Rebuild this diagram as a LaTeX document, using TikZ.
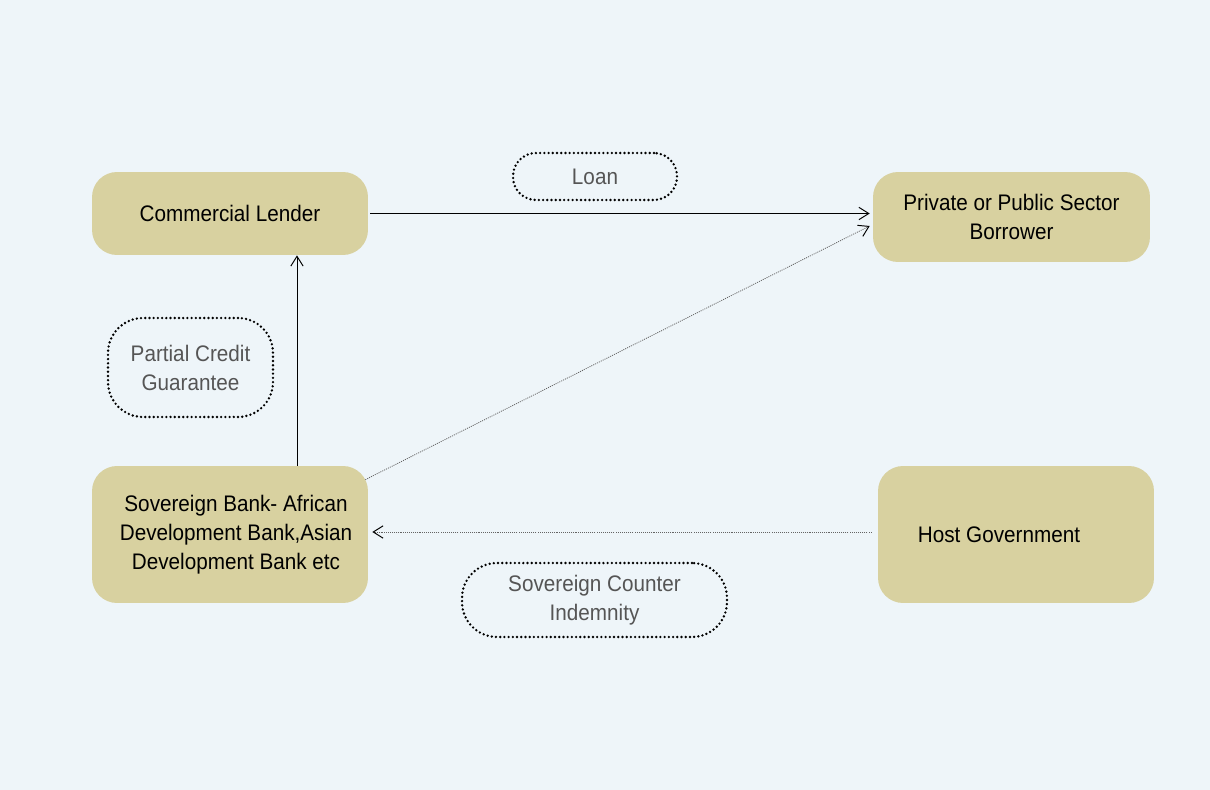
\documentclass[tikz,border=0pt]{standalone}
\usepackage{fontspec}
\setmainfont{Liberation Sans}[FakeStretch=0.92]
\usetikzlibrary{arrows.meta}
\definecolor{bgcol}{RGB}{238,245,249}
\definecolor{boxfill}{RGB}{216,209,160}
\definecolor{labeltext}{RGB}{85,85,85}
\definecolor{dotline}{RGB}{100,100,100}
\begin{document}
\begin{tikzpicture}[x=0.02cm,y=-0.02cm,
  party/.style={fill=boxfill, rounded corners=0.5cm, inner sep=0pt, align=center,
    font=\fontsize{12.8pt}{16.5pt}\selectfont, text=black},
  relation/.style={draw=black, line width=1.5pt, line cap=round,
    dash pattern=on 0pt off 2.4pt, inner sep=0pt, align=center,
    font=\fontsize{12.8pt}{16.5pt}\selectfont, text=labeltext},
  flow/.style={line width=0.55pt, -{Straight Barb[length=5.6pt,width=7pt]}},
  dotflow/.style={draw=dotline, line width=0.45pt, dash pattern=on 0.6pt off 0.6pt,
    -{Straight Barb[length=5.6pt,width=7pt,black,line width=0.55pt,sep=0pt]}}
]
\fill[bgcol] (0,0) rectangle (1210,790);
\useasboundingbox (0,0) rectangle (1210,790);

% parties
\node[party, minimum width=5.52cm, minimum height=1.66cm] (lender) at (230,213.5) {Commercial Lender};
\node[party, minimum width=5.54cm, minimum height=1.80cm] (borrower) at (1011.5,217) {Private or Public Sector\\Borrower};
\node[party, minimum width=5.52cm, minimum height=2.74cm] (sovereign) at (230,534.5)
  {\hspace*{0.24cm}Sovereign Bank- African\\\hspace*{0.24cm}Development Bank,Asian\\\hspace*{0.24cm}Development Bank etc};
\node[party, minimum width=5.52cm, minimum height=2.74cm] (host) at (1016,534.5) {Host Government\hspace*{0.68cm}};

% relations
\node[relation, rounded corners=0.46cm, minimum width=3.28cm, minimum height=0.94cm] (loan) at (595,176.5) {Loan};
\node[relation, rounded corners=0.7cm, minimum width=3.30cm, minimum height=1.98cm] (pcg) at (190.5,367.5) {Partial Credit\\Guarantee};
\node[relation, rounded corners=0.7cm, minimum width=5.30cm, minimum height=1.48cm] (sci) at (594.5,600) {Sovereign Counter\\Indemnity};

% connectors
\draw[flow] ([xshift=0.04cm]lender.east) -- ([xshift=-0.06cm]borrower.west |- lender.east);
\draw[flow] ([xshift=1.34cm]sovereign.north) -- ([xshift=1.34cm]lender.south);
\draw[dotflow] ([xshift=-0.06cm,yshift=-0.28cm]sovereign.north east) -- ([xshift=-0.06cm,yshift=-0.18cm]borrower.west);
\draw[dotflow] ([xshift=-0.12cm,yshift=0.05cm]host.west) -- ([xshift=0.08cm,yshift=0.05cm]sovereign.east);
\end{tikzpicture}
\end{document}
